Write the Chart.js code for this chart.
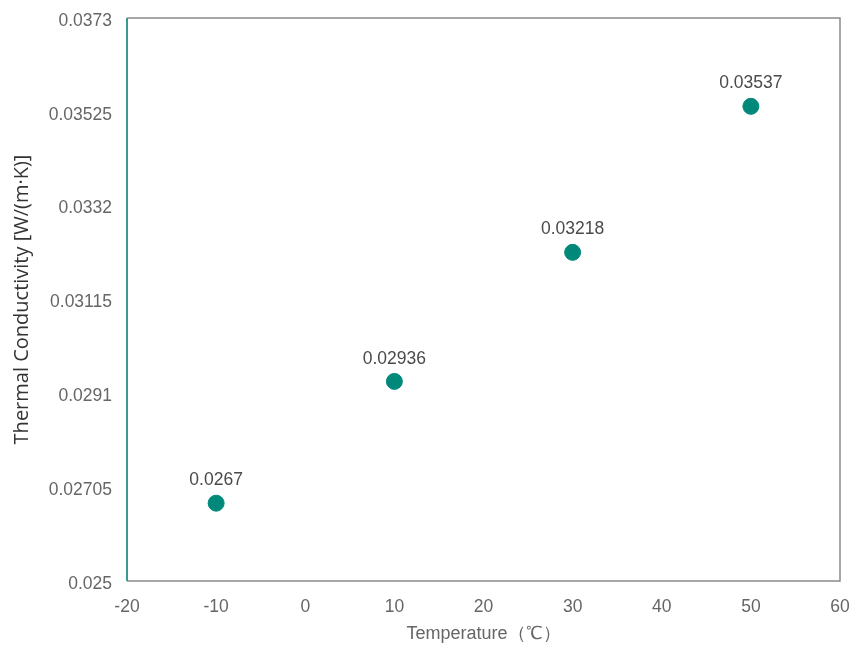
<!DOCTYPE html>
<html>
<head>
<meta charset="utf-8">
<script src="https://cdn.jsdelivr.net/npm/chart.js@4"></script>
<style>
  html, body { margin: 0; padding: 0; background: #fff; }
  #wrap { width: 861px; height: 645px; position: relative; }
</style>
</head>
<body>
<div id="wrap"><canvas id="c" width="861" height="645"></canvas></div>
<script>
const temperatures = [-10, 10, 30, 50];
const conductivity = [0.0267, 0.02936, 0.03218, 0.03537];
const pointLabels = ["0.0267", "0.02936", "0.03218", "0.03537"];
const yTickValues = [0.025, 0.02705, 0.0291, 0.03115, 0.0332, 0.03525, 0.0373];
const yTickLabels = ["0.025", "0.02705", "0.0291", "0.03115", "0.0332", "0.03525", "0.0373"];
const xTickValues = [-20, -10, 0, 10, 20, 30, 40, 50, 60];

const textColor = '#666666';
const fontFamily = "'Liberation Sans', Arial, sans-serif";

const framePlugin = {
  id: 'frame',
  afterDraw(chart) {
    const {ctx, chartArea: a} = chart;
    ctx.save();
    ctx.strokeStyle = '#8a8a8a';
    ctx.lineWidth = 1.5;
    ctx.beginPath();
    ctx.moveTo(a.left, a.top);
    ctx.lineTo(a.right, a.top);
    ctx.lineTo(a.right, a.bottom);
    ctx.lineTo(a.left, a.bottom);
    ctx.stroke();
    ctx.strokeStyle = '#3a9a92';
    ctx.lineWidth = 2;
    ctx.beginPath();
    ctx.moveTo(a.left, a.top);
    ctx.lineTo(a.left, a.bottom);
    ctx.stroke();
    ctx.restore();
  }
};

const labelPlugin = {
  id: 'pointLabels',
  afterDatasetsDraw(chart) {
    const {ctx} = chart;
    const meta = chart.getDatasetMeta(0);
    ctx.save();
    ctx.fillStyle = '#4a4a4a';
    ctx.font = '17.5px ' + fontFamily;
    ctx.textAlign = 'center';
    ctx.textBaseline = 'bottom';
    meta.data.forEach((pt, i) => {
      ctx.fillText(pointLabels[i], pt.x, pt.y - 14);
    });
    ctx.restore();
  }
};

new Chart(document.getElementById('c'), {
  type: 'scatter',
  data: {
    datasets: [{
      data: temperatures.map((t, i) => ({x: t, y: conductivity[i]})),
      backgroundColor: '#00897b',
      borderColor: '#00897b',
      pointRadius: 8,
      pointHoverRadius: 8
    }]
  },
  options: {
    responsive: false,
    animation: false,
    layout: { padding: { top: 18, right: 21, left: 0, bottom: 0 } },
    plugins: { legend: { display: false }, tooltip: { enabled: false } },
    scales: {
      x: {
        type: 'linear',
        min: -20, max: 60,
        afterBuildTicks(s) { s.ticks = xTickValues.map(v => ({value: v})); },
        afterFit(s) { s.height = 64; s.paddingLeft = 0; s.paddingRight = 0; },
        grid: { display: false, drawTicks: false },
        border: { display: false },
        ticks: { color: textColor, font: { size: 17.5, family: fontFamily }, padding: 16 },
        title: { display: true, text: 'Temperature（℃）', color: textColor,
                 font: { size: 18, family: fontFamily }, padding: { top: 0, bottom: 0 } }
      },
      y: {
        type: 'linear',
        min: 0.025, max: 0.0373,
        afterBuildTicks(s) { s.ticks = yTickValues.map(v => ({value: v})); },
        afterFit(s) { s.width = 127; s.paddingTop = 0; s.paddingBottom = 0; },
        grid: { display: false, drawTicks: false },
        border: { display: false },
        ticks: {
          color: textColor, font: { size: 17.5, family: fontFamily }, padding: 15, labelOffset: 3,
          callback(v) { const i = yTickValues.findIndex(t => Math.abs(t - v) < 1e-9); return i >= 0 ? yTickLabels[i] : ''; }
        },
        title: { display: true, text: 'Thermal Conductivity [W/(m·K)]', color: '#333333',
                 font: { size: 20, family: "'Open Sans', 'Noto Sans', sans-serif" }, padding: { top: 10, bottom: 0 } }
      }
    }
  },
  plugins: [framePlugin, labelPlugin]
});
</script>
</body>
</html>
